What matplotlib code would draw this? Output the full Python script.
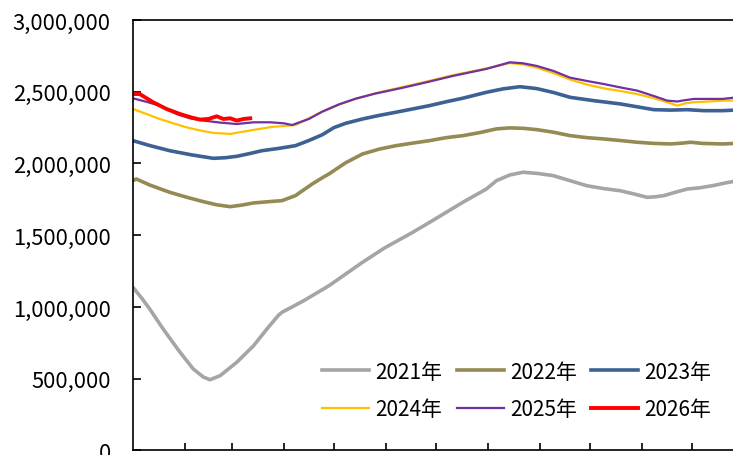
"""Daily stock levels by year, 2021-2026, one line per year."""

import matplotlib

matplotlib.use("Agg")
import matplotlib.pyplot as plt
from matplotlib.ticker import FuncFormatter

OUTPUT_PATH = "out.png"

# day of year (0 = 1 Jan) and values
days_2021 = [0, 5, 10, 18, 28, 36, 42, 46, 52, 62, 72, 80, 87, 89, 102, 117,
             137, 150, 167, 180, 197, 211, 217, 225, 233, 242, 251, 261, 271,
             281, 291, 300, 307, 312, 317, 324, 331, 338, 346, 354, 361, 365]
vals_2021 = [1137000, 1065000, 986000, 847000, 686000, 568000, 512000, 493000,
             521000, 615000, 730000, 847000, 944000, 963000, 1044000, 1148000,
             1311000, 1410000, 1520000, 1610000, 1730000, 1822000, 1880000,
             1920000, 1939000, 1930000, 1915000, 1880000, 1845000, 1825000,
             1810000, 1785000, 1764000, 1768000, 1776000, 1800000, 1822000,
             1830000, 1845000, 1865000, 1880000, 1890000]

days_2022 = [0, 2, 10, 22, 32, 42, 50, 58, 65, 72, 80, 89, 97, 107, 113, 117,
             127, 137, 147, 157, 167, 177, 187, 197, 207, 217, 225, 233, 241,
             251, 261, 271, 281, 291, 301, 311, 321, 328, 333, 340, 352, 360,
             365]
vals_2022 = [1880000, 1892000, 1850000, 1799000, 1765000, 1734000, 1712000,
             1699000, 1710000, 1725000, 1733000, 1741000, 1776000, 1857000,
             1900000, 1927000, 2005000, 2066000, 2100000, 2124000, 2142000,
             2159000, 2180000, 2194000, 2215000, 2241000, 2248000, 2245000,
             2236000, 2218000, 2194000, 2180000, 2171000, 2160000, 2148000,
             2140000, 2136000, 2142000, 2148000, 2140000, 2136000, 2140000,
             2143000]

days_2023 = [0, 10, 22, 35, 48, 55, 62, 70, 77, 87, 97, 105, 113, 120, 127,
             137, 147, 157, 167, 177, 187, 197, 211, 221, 231, 241, 251, 261,
             275, 291, 301, 311, 321, 331, 341, 352, 365]
vals_2023 = [2159000, 2125000, 2089000, 2060000, 2036000, 2040000, 2050000,
             2070000, 2089000, 2105000, 2124000, 2160000, 2200000, 2250000,
             2280000, 2310000, 2335000, 2357000, 2380000, 2403000, 2430000,
             2455000, 2496000, 2520000, 2535000, 2522000, 2495000, 2461000,
             2438000, 2415000, 2395000, 2375000, 2372000, 2375000, 2368000,
             2368000, 2375000]

days_2024 = [0, 8, 16, 24, 32, 40, 48, 58, 65, 73, 83, 93, 97, 105, 113, 123,
             133, 145, 160, 175, 191, 211, 225, 233, 241, 251, 261, 271, 281,
             291, 301, 311, 319, 325, 330, 335, 345, 352, 365]
vals_2024 = [2380000, 2345000, 2310000, 2280000, 2252000, 2230000, 2213000,
             2206000, 2220000, 2236000, 2255000, 2264000, 2268000, 2315000,
             2361000, 2410000, 2450000, 2490000, 2530000, 2570000, 2615000,
             2662000, 2700000, 2690000, 2668000, 2630000, 2585000, 2550000,
             2524000, 2505000, 2484000, 2455000, 2427000, 2403000, 2420000,
             2427000, 2433000, 2438000, 2440000]

days_2025 = [0, 8, 16, 26, 34, 42, 52, 62, 72, 82, 90, 95, 105, 113, 123, 133,
             145, 160, 175, 191, 211, 225, 233, 241, 251, 261, 271, 281, 291,
             301, 311, 319, 325, 329, 335, 345, 352, 360, 365]
vals_2025 = [2454000, 2430000, 2403000, 2345000, 2315000, 2299000, 2285000,
             2275000, 2287000, 2287000, 2280000, 2268000, 2310000, 2361000,
             2412000, 2452000, 2488000, 2525000, 2565000, 2610000, 2659000,
             2705000, 2698000, 2680000, 2645000, 2598000, 2575000, 2554000,
             2530000, 2508000, 2470000, 2438000, 2432000, 2440000, 2450000,
             2450000, 2450000, 2460000, 2468000]

days_2026 = [0, 4, 12, 20, 28, 35, 40, 45, 50, 54, 58, 62, 66, 70]
vals_2026 = [2484000, 2484000, 2427000, 2380000, 2345000, 2320000, 2306000,
             2310000, 2329000, 2310000, 2315000, 2299000, 2310000, 2315000]

# first day of each month after January
month_starts = [31, 59, 90, 120, 151, 181, 212, 243, 273, 304, 334]


def main() -> None:
    plt.rcParams["font.family"] = ["Noto Sans CJK KR", "DejaVu Sans"]
    plt.rcParams["font.size"] = 15

    fig = plt.figure(figsize=(7.33, 4.56), dpi=100)
    ax = fig.add_axes([0.1814, 0.0099, 0.834, 0.9441])

    series = [
        ("2021年", days_2021, vals_2021, "#a5a5a5", 2.6),
        ("2022年", days_2022, vals_2022, "#948a54", 2.6),
        ("2023年", days_2023, vals_2023, "#3d6192", 2.6),
        ("2024年", days_2024, vals_2024, "#ffc000", 1.6),
        ("2025年", days_2025, vals_2025, "#7030a0", 1.6),
        ("2026年", days_2026, vals_2026, "#ff0000", 2.8),
    ]
    lines = []
    for label, days, vals, color, width in series:
        (line,) = ax.plot(days, vals, color=color, linewidth=width,
                          label=label, solid_joinstyle="round")
        lines.append(line)

    ax.set_xlim(0, 365)
    ax.set_ylim(0, 3000000)
    ax.set_yticks(range(0, 3000001, 500000))
    ax.yaxis.set_major_formatter(FuncFormatter(lambda v, _: f"{v:,.0f}"))
    ax.set_xticks(month_starts)
    ax.tick_params(axis="x", direction="in", length=5, width=1.2,
                   labelbottom=False)
    ax.tick_params(axis="y", direction="in", length=6, width=1.2, pad=16,
                   labelsize=15.8)
    for spine in ax.spines.values():
        spine.set_linewidth(1.2)
        spine.set_color("black")

    # legend fills column by column, so reorder to read row by row
    order = [0, 3, 1, 4, 2, 5]
    ax.legend(
        [lines[i] for i in order],
        [series[i][0] for i in order],
        ncol=3,
        loc="center",
        bbox_to_anchor=(0.705, 0.1414),
        bbox_transform=fig.transFigure,
        frameon=False,
        handlelength=2.25,
        handletextpad=0.3,
        columnspacing=0.7,
        labelspacing=0.75,
        borderpad=0,
    )

    fig.savefig(OUTPUT_PATH, dpi=100)
    plt.close(fig)


if __name__ == "__main__":
    main()
